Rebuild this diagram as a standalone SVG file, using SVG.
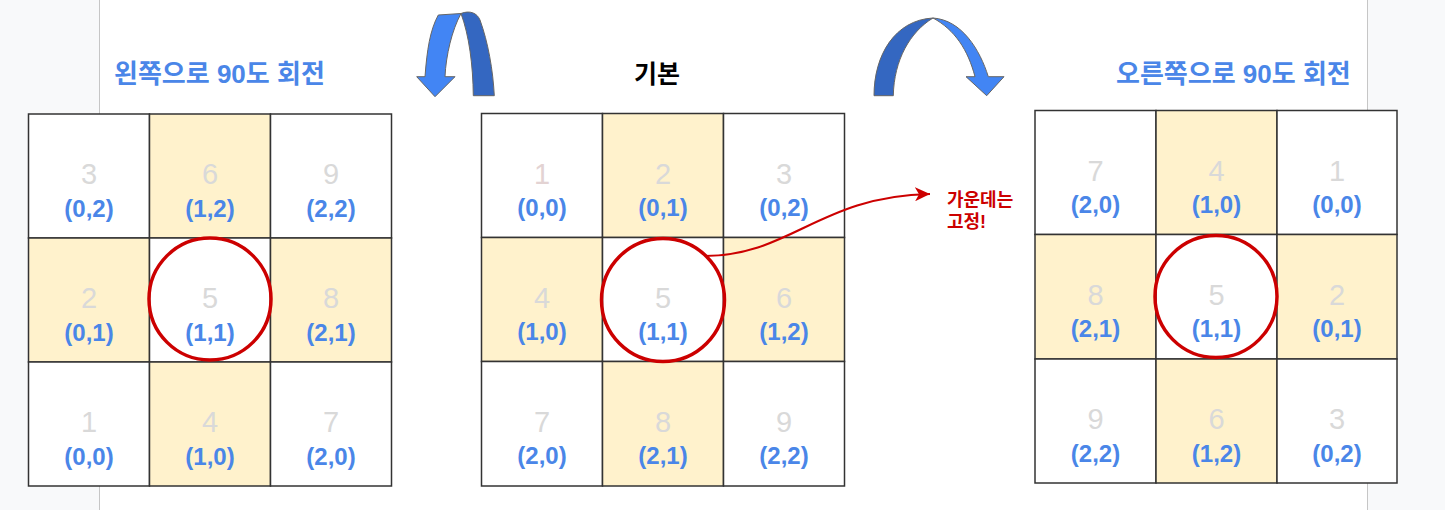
<svg xmlns="http://www.w3.org/2000/svg" width="1445" height="510" viewBox="0 0 1445 510">
<style>
.cell{stroke:#333;stroke-width:1.5}
.w{fill:#ffffff}
.y{fill:#fff2cc}
.num{font-family:"Liberation Sans","Noto Sans CJK KR",sans-serif;font-size:29px;fill:#d9d9d9;text-anchor:middle}
.crd{font-family:"Liberation Sans","Noto Sans CJK KR",sans-serif;font-size:24px;font-weight:bold;fill:#4a86e8;text-anchor:middle}
.ring{fill:none;stroke:#cc0000;stroke-width:3.5}
.title{font-family:"Liberation Sans","Noto Sans CJK KR",sans-serif;font-size:26px;font-weight:bold}
.lt{fill:#4285f4;stroke:#666;stroke-width:1}
.dk{fill:#3467c1;stroke:#666;stroke-width:1}
.note{font-family:"Liberation Sans","Noto Sans CJK KR",sans-serif;font-size:18px;font-weight:bold;fill:#cc0000}
</style>
<defs>
<marker id="ah" markerWidth="16" markerHeight="14" refX="15" refY="7" orient="auto" markerUnits="userSpaceOnUse">
<path d="M0,0 L15,7 L0,14 L4,7 Z" fill="#cc0000"/>
</marker>
</defs>
<rect x="0" y="0" width="1445" height="510" fill="#f8f9fa"/>
<rect x="100" y="0" width="1267" height="510" fill="#ffffff"/>
<line x1="99.5" y1="0" x2="99.5" y2="510" stroke="#c6c6c6" stroke-width="1"/>
<line x1="1367.5" y1="0" x2="1367.5" y2="510" stroke="#c6c6c6" stroke-width="1"/>

<g id="title-left"><text class="title" x="114" y="83" fill="#4a86e8">왼쪽으로 90도 회전</text></g>
<g id="title-mid"><text class="title" x="657" y="83" fill="#000000" text-anchor="middle" style="font-size:25px">기본</text></g>
<g id="title-right"><text class="title" x="1116" y="83" fill="#4a86e8">오른쪽으로 90도 회전</text></g>

<g id="arrow-left">
<path class="dk" d="M461,13.5 C470,10 477,13 480,20 C488,42 493,70 494.3,95.7 L473.3,95.7 C473,65 469,35 461,13.5 Z"/>
<path class="lt" d="M425,76.7 C427,50 430,30 438.3,15 L461,13.5 C452,30 446,55 445,76.7 L455,76.7 L435,96.7 L416.7,76.7 Z"/>
</g>
<g id="arrow-right">
<path class="dk" d="M874,95.7 C874,55 895,20 933,18 C910,32 894,60 893.3,95.7 Z"/>
<path class="lt" d="M933,18 C962,20 980,50 988.3,76.7 L1004,76.7 L986.7,95.7 L966,76.7 L975,76.7 C968,50 955,30 933,18 Z"/>
</g>

<g id="grid-left">
<rect class="cell w" x="28.5" y="114" width="121" height="124"/>
<rect class="cell y" x="149.5" y="114" width="121" height="124"/>
<rect class="cell w" x="270.5" y="114" width="121" height="124"/>
<rect class="cell y" x="28.5" y="238" width="121" height="124"/>
<rect class="cell w" x="149.5" y="238" width="121" height="124"/>
<rect class="cell y" x="270.5" y="238" width="121" height="124"/>
<rect class="cell w" x="28.5" y="362" width="121" height="124"/>
<rect class="cell y" x="149.5" y="362" width="121" height="124"/>
<rect class="cell w" x="270.5" y="362" width="121" height="124"/>
<text class="num" x="89" y="184">3</text><text class="crd" x="89" y="216.5">(0,2)</text>
<text class="num" x="210" y="184">6</text><text class="crd" x="210" y="216.5">(1,2)</text>
<text class="num" x="331" y="184">9</text><text class="crd" x="331" y="216.5">(2,2)</text>
<text class="num" x="89" y="308">2</text><text class="crd" x="89" y="340.5">(0,1)</text>
<text class="num" x="210" y="308">5</text><text class="crd" x="210" y="340.5">(1,1)</text>
<text class="num" x="331" y="308">8</text><text class="crd" x="331" y="340.5">(2,1)</text>
<text class="num" x="89" y="432">1</text><text class="crd" x="89" y="464.5">(0,0)</text>
<text class="num" x="210" y="432">4</text><text class="crd" x="210" y="464.5">(1,0)</text>
<text class="num" x="331" y="432">7</text><text class="crd" x="331" y="464.5">(2,0)</text>
<circle class="ring" cx="210" cy="299" r="61"/>
</g>

<g id="grid-mid">
<rect class="cell w" x="481.5" y="113.5" width="121" height="124"/>
<rect class="cell y" x="602.5" y="113.5" width="121" height="124"/>
<rect class="cell w" x="723.5" y="113.5" width="121" height="124"/>
<rect class="cell y" x="481.5" y="237.5" width="121" height="124"/>
<rect class="cell w" x="602.5" y="237.5" width="121" height="124"/>
<rect class="cell y" x="723.5" y="237.5" width="121" height="124"/>
<rect class="cell w" x="481.5" y="361.5" width="121" height="124.5"/>
<rect class="cell y" x="602.5" y="361.5" width="121" height="124.5"/>
<rect class="cell w" x="723.5" y="361.5" width="121" height="124.5"/>
<text class="num" x="542" y="183.5" style="fill:#e3d3d3">1</text><text class="crd" x="542" y="216">(0,0)</text>
<text class="num" x="663" y="183.5">2</text><text class="crd" x="663" y="216">(0,1)</text>
<text class="num" x="784" y="183.5">3</text><text class="crd" x="784" y="216">(0,2)</text>
<text class="num" x="542" y="307.5">4</text><text class="crd" x="542" y="340">(1,0)</text>
<text class="num" x="663" y="307.5">5</text><text class="crd" x="663" y="340">(1,1)</text>
<text class="num" x="784" y="307.5">6</text><text class="crd" x="784" y="340">(1,2)</text>
<text class="num" x="542" y="431.5">7</text><text class="crd" x="542" y="464">(2,0)</text>
<text class="num" x="663" y="431.5">8</text><text class="crd" x="663" y="464">(2,1)</text>
<text class="num" x="784" y="431.5">9</text><text class="crd" x="784" y="464">(2,2)</text>
<circle class="ring" cx="663" cy="300" r="61.5"/>
</g>

<g id="grid-right">
<rect class="cell w" x="1035" y="110.5" width="121" height="124"/>
<rect class="cell y" x="1156" y="110.5" width="121" height="124"/>
<rect class="cell w" x="1277" y="110.5" width="120" height="124"/>
<rect class="cell y" x="1035" y="234.5" width="121" height="124.5"/>
<rect class="cell w" x="1156" y="234.5" width="121" height="124.5"/>
<rect class="cell y" x="1277" y="234.5" width="120" height="124.5"/>
<rect class="cell w" x="1035" y="359" width="121" height="124"/>
<rect class="cell y" x="1156" y="359" width="121" height="124"/>
<rect class="cell w" x="1277" y="359" width="120" height="124"/>
<text class="num" x="1095.5" y="180.5">7</text><text class="crd" x="1095.5" y="213">(2,0)</text>
<text class="num" x="1216.5" y="180.5">4</text><text class="crd" x="1216.5" y="213">(1,0)</text>
<text class="num" x="1337" y="180.5">1</text><text class="crd" x="1337" y="213">(0,0)</text>
<text class="num" x="1095.5" y="304.5">8</text><text class="crd" x="1095.5" y="337">(2,1)</text>
<text class="num" x="1216.5" y="304.5">5</text><text class="crd" x="1216.5" y="337">(1,1)</text>
<text class="num" x="1337" y="304.5">2</text><text class="crd" x="1337" y="337">(0,1)</text>
<text class="num" x="1095.5" y="429">9</text><text class="crd" x="1095.5" y="461.5">(2,2)</text>
<text class="num" x="1216.5" y="429">6</text><text class="crd" x="1216.5" y="461.5">(1,2)</text>
<text class="num" x="1337" y="429">3</text><text class="crd" x="1337" y="461.5">(0,2)</text>
<circle class="ring" cx="1216" cy="296.5" r="61"/>
</g>

<g id="connectors">
<path d="M705,256 C790,256 820,196 930,194" fill="none" stroke="#cc0000" stroke-width="2.2" marker-end="url(#ah)"/>
</g>

<g id="note">
<text class="note" x="947" y="206">가운데는</text>
<text class="note" x="947" y="228">고정!</text>
</g>
</svg>
